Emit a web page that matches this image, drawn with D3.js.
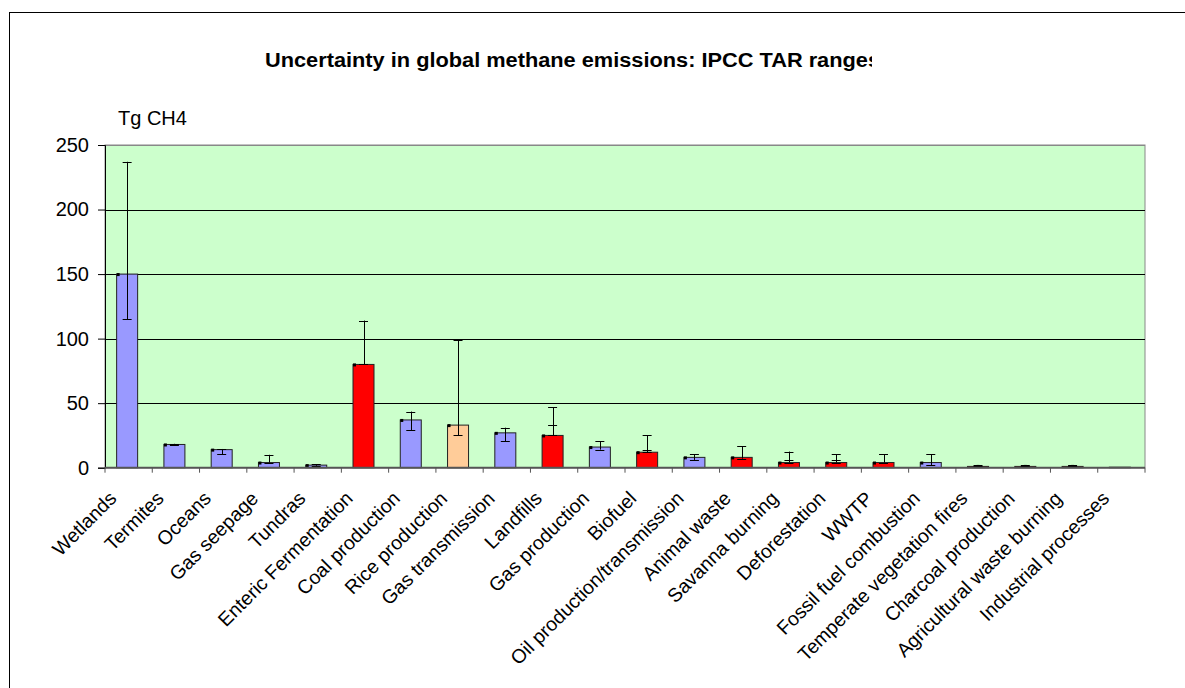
<!DOCTYPE html>
<html>
<head>
<meta charset="utf-8">
<script src="https://cdn.jsdelivr.net/npm/d3@7"></script>
<style>
  html, body { margin: 0; padding: 0; background: #fff; }
  svg { display: block; font-family: "Liberation Sans", Arial, sans-serif; }
</style>
</head>
<body>
<svg id="chart" width="1185" height="688"></svg>
<script>
// ---- data ----
const categories = ["Wetlands","Termites","Oceans","Gas seepage","Tundras","Enteric Fermentation",
  "Coal production","Rice production","Gas transmission","Landfills","Gas production","Biofuel",
  "Oil production/transmission","Animal waste","Savanna burning","Deforestation","WWTP",
  "Fossil fuel combustion","Temperate vegetation fires","Charcoal production",
  "Agricultural waste burning","Industrial processes"];
const values   = [150, 18, 14, 4, 2, 80, 37, 33, 27, 25, 16, 12, 8, 8, 4, 4, 4, 4, 1, 1, 1, 0.4];
const errLow   = [115, 17.5, 10.5, 4, 1.5, 80, 29, 25, 20.5, 25, 14, 12, 6, 7, 4, 4, 4, 2, 1, 1, 1, null];
const errHigh  = [237, 18.5, 14.5, 10, 2.5, 114, 43.5, 99, 31, 47, 20.5, 25, 10.5, 16.5, 12.5, 10.5, 10.5, 10.5, 2, 2, 2, null];
const errMid   = [null, null, null, null, null, null, null, null, null, 33, null, 14, null, null, 6, 6, null, null, null, null, null, null];
const sourceType = ["n","n","n","n","n","a","n","r","n","a","n","a","n","a","a","a","a","n","a","a","a","n"];
const yTicks = [0, 50, 100, 150, 200, 250];
const titleText = "Uncertainty in global methane emissions: IPCC TAR ranges";
const unitText = "Tg CH4";

const colorOf = d3.scaleOrdinal().domain(["n","a","r"]).range(["#9999FF","#FF0000","#FFCC99"]);

// ---- layout ----
const svg = d3.select("#chart");
const plot = {left: 105, right: 1145, top: 145, bottom: 467.7};

const x = d3.scaleBand().domain(categories).range([plot.left, plot.right]).padding(0);
const y = d3.scaleLinear().domain([0, 250]).range([plot.bottom, plot.top]);
const barW = 21;
const barOff = x.bandwidth() / 2 - 1.5; // bar centre within slot

// outer frame
svg.append("rect").attr("x", 9.5).attr("y", 12.5).attr("width", 1200).attr("height", 700)
  .attr("fill", "none").attr("stroke", "#000").attr("stroke-width", 1);

// title (clipped like reference)
svg.append("clipPath").attr("id", "tclip").append("rect")
  .attr("x", 0).attr("y", 0).attr("width", 872).attr("height", 100);
svg.append("text").attr("x", 265).attr("y", 66.5)
  .attr("clip-path", "url(#tclip)")
  .attr("font-size", 20).attr("font-weight", "bold")
  .attr("textLength", 615).attr("lengthAdjust", "spacingAndGlyphs")
  .text(titleText);

svg.append("text").attr("x", 118).attr("y", 125).attr("font-size", 20).text(unitText);

// plot background
svg.append("rect").attr("x", plot.left).attr("y", plot.top)
  .attr("width", plot.right - plot.left).attr("height", plot.bottom - plot.top)
  .attr("fill", "#CCFFCC").attr("stroke", "#888").attr("stroke-width", 1);

// gridlines
svg.append("g").selectAll("line").data(yTicks.filter(t => t > 0)).join("line")
  .attr("x1", plot.left).attr("x2", plot.right)
  .attr("y1", d => Math.round(y(d)) + 0.5).attr("y2", d => Math.round(y(d)) + 0.5)
  .attr("stroke", d => d === 250 ? "#888" : "#000").attr("stroke-width", 1);

// y axis
const yAxis = d3.axisLeft(y).tickValues(yTicks).tickSize(7).tickPadding(9);
const gy = svg.append("g").attr("transform", `translate(${plot.left},0)`).call(yAxis);
gy.select(".domain").attr("stroke", "#000");
gy.selectAll(".tick line").attr("stroke", "#000");
gy.selectAll(".tick text").attr("font-size", 20).attr("fill", "#000")
  .attr("font-family", "Liberation Sans, Arial, sans-serif").attr("dy", "0.32em");

// bars
const data = categories.map((c, i) => ({c, v: values[i], lo: errLow[i], hi: errHigh[i], mid: errMid[i], t: sourceType[i]}));
const gb = svg.append("g");
gb.selectAll("rect.bar").data(data).join("rect").attr("class", "bar")
  .attr("x", d => x(d.c) + barOff - barW / 2)
  .attr("y", d => y(d.v))
  .attr("width", barW)
  .attr("height", d => y(0) - y(d.v))
  .attr("fill", d => colorOf(d.t))
  .attr("stroke", "#222").attr("stroke-width", 1);

// small markers at bar top-left corner
gb.selectAll("rect.mk").data(data.filter(d => d.v >= 2)).join("rect").attr("class", "mk")
  .attr("x", d => x(d.c) + barOff - barW / 2)
  .attr("y", d => y(d.v) - 1)
  .attr("width", 3).attr("height", 3).attr("fill", "#000");

// error bars
const eb = data.filter(d => d.hi != null);
const ge = svg.append("g").attr("stroke", "#000").attr("stroke-width", 1);
ge.selectAll("line.v").data(eb).join("line")
  .attr("x1", d => Math.round(x(d.c) + barOff) + 0.5).attr("x2", d => Math.round(x(d.c) + barOff) + 0.5)
  .attr("y1", d => y(d.hi)).attr("y2", d => y(d.lo));
const caps = [];
eb.forEach(d => { caps.push({c: d.c, v: d.hi}); caps.push({c: d.c, v: d.lo}); if (d.mid != null) caps.push({c: d.c, v: d.mid}); });
ge.selectAll("line.cap").data(caps).join("line")
  .attr("x1", d => x(d.c) + barOff - 4.5).attr("x2", d => x(d.c) + barOff + 4.5)
  .attr("y1", d => Math.round(y(d.v)) + 0.5).attr("y2", d => Math.round(y(d.v)) + 0.5);
// marker at lower cap for small items
ge.selectAll("rect.lm").data(eb.filter(d => d.v < 2)).join("rect")
  .attr("x", d => x(d.c) + barOff - 1.5).attr("y", d => y(d.v) - 1.5)
  .attr("width", 3).attr("height", 3).attr("fill", "#000").attr("stroke", "none");

// x axis
const gx = svg.append("g").attr("transform", `translate(0,${plot.bottom})`);
gx.append("line").attr("x1", plot.left).attr("x2", plot.right).attr("y1", 0).attr("y2", 0)
  .attr("stroke", "#555").attr("stroke-width", 2);
const bounds = d3.range(categories.length + 1).map(i => plot.left + i * x.step());
gx.selectAll("line.t").data(bounds).join("line").attr("class", "t")
  .attr("x1", d => d).attr("x2", d => d).attr("y1", 0).attr("y2", 5)
  .attr("stroke", "#555").attr("stroke-width", 1);

// rotated category labels
svg.append("g").selectAll("text").data(categories).join("text")
  .attr("transform", c => `translate(${x(c) + x.bandwidth() / 2 - 11},${plot.bottom + 32}) rotate(-45)`)
  .attr("text-anchor", "end")
  .attr("font-size", 19.5)
  .text(c => c);
</script>
</body>
</html>
